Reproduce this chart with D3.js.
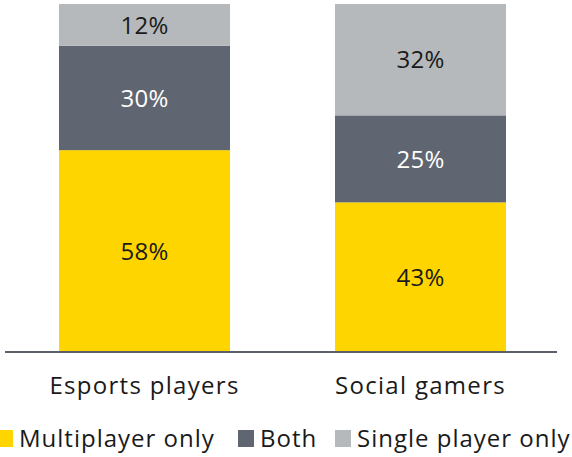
<!DOCTYPE html>
<html>
<head>
<meta charset="utf-8">
<script src="https://cdn.jsdelivr.net/npm/d3@7"></script>
<style>
  html, body { margin: 0; padding: 0; background: #fff; }
  svg { display: block; }
  text { font-family: "Open Sans", "DejaVu Sans", sans-serif; }
</style>
</head>
<body>
<svg id="chart" width="572" height="457"></svg>
<script>
// Share of players by play mode, per audience group (percent)
const groups = ["Esports players", "Social gamers"];
const seriesNames = ["Multiplayer only", "Both", "Single player only"];
const multiplayerOnly = [58, 43];
const both = [30, 25];
const singlePlayerOnly = [12, 32];

const colors = ["#FFD500", "#5F6571", "#B6B9BC"];
const labelColors = ["#1a1a1a", "#ffffff", "#1a1a1a"];

const svg = d3.select("#chart");

const rows = groups.map((g, i) => ({
  group: g,
  "Multiplayer only": multiplayerOnly[i],
  "Both": both[i],
  "Single player only": singlePlayerOnly[i]
}));

const layers = d3.stack().keys(seriesNames)(rows);

const x = d3.scaleBand()
  .domain(groups)
  .range([3.8, 561.2])
  .paddingInner(0.3804)
  .paddingOuter(0.2);

const y = d3.scaleLinear().domain([0, 100]).range([352, 4]);

// Stacked segments
svg.append("g")
  .selectAll("g")
  .data(layers)
  .join("g")
  .attr("fill", (d, i) => colors[i])
  .selectAll("rect")
  .data(d => d)
  .join("rect")
  .attr("x", d => x(d.data.group))
  .attr("y", d => y(d[1]))
  .attr("width", x.bandwidth())
  .attr("height", d => y(d[0]) - y(d[1]));

// Value labels centred in each segment
svg.append("g")
  .selectAll("g")
  .data(layers)
  .join("g")
  .attr("fill", (d, i) => labelColors[i])
  .selectAll("text")
  .data(d => d)
  .join("text")
  .attr("x", d => x(d.data.group) + x.bandwidth() / 2)
  .attr("y", d => (y(d[0]) + y(d[1])) / 2)
  .attr("dy", "0.36em")
  .attr("text-anchor", "middle")
  .attr("font-size", 24)
  .attr("letter-spacing", 0.3)
  .text(d => (d[1] - d[0]) + "%");

// Baseline axis with category labels
const axisG = svg.append("g")
  .attr("transform", `translate(0,${y(0)})`)
  .call(d3.axisBottom(x).tickSize(0).tickPadding(0));
axisG.select(".domain")
  .attr("d", "M5,0H557")
  .attr("stroke", "#5a5f68")
  .attr("stroke-width", 2);
axisG.selectAll(".tick text")
  .attr("y", 42)
  .attr("dy", 0)
  .attr("fill", "#1a1a1a")
  .attr("font-size", 24)
  .attr("letter-spacing", 1.3)
  .style("font-family", "'Open Sans', 'DejaVu Sans', sans-serif");

// Legend
const legendX = [-3, 238, 335];
const legend = svg.append("g")
  .selectAll("g")
  .data(seriesNames)
  .join("g")
  .attr("transform", (d, i) => `translate(${legendX[i]},430)`);
legend.append("rect")
  .attr("width", 16)
  .attr("height", 17)
  .attr("fill", (d, i) => colors[i]);
legend.append("text")
  .attr("x", 22)
  .attr("y", 17)
  .attr("fill", "#1a1a1a")
  .attr("font-size", 24)
  .attr("letter-spacing", 1.0)
  .text(d => d);
</script>
</body>
</html>
